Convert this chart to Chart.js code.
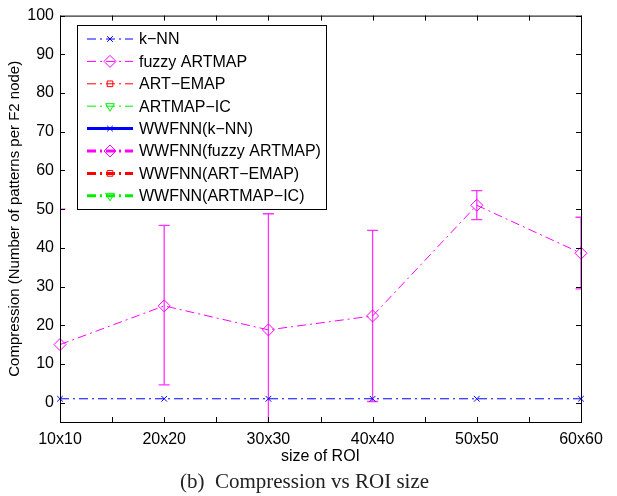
<!DOCTYPE html>
<html><head><meta charset="utf-8">
<script src="https://cdn.jsdelivr.net/npm/chart.js@4"></script>
<style>
html,body{margin:0;padding:0;background:#fff;}
#wrap{position:relative;width:617px;height:496px;}
#cap{position:absolute;left:0;width:609px;top:468px;text-align:center;font-family:"Liberation Serif","DejaVu Serif",serif;font-size:21px;line-height:26px;color:#222;}
</style></head>
<body>
<div id="wrap"><canvas id="c" width="617" height="496"></canvas>
<div id="cap">(b)&nbsp; Compression vs ROI size</div></div>
<script>
const categories = ['10x10','20x20','30x30','40x40','50x50','60x60'];
const knn = [1,1,1,1,1,1];
const fuzzy = [15,25,18.8,22.4,51,38.6];
const fuzzyLow = [-20,4.6,-11.2,0.3,47.3,29.4];
const fuzzyHigh = [50,45.8,48.8,44.5,54.8,47.9];
const empty = [null,null,null,null,null,null];
const yTicks = [0,10,20,30,40,50,60,70,80,90,100];
const xMinor = [1,1.5,2,2.5,3,3.5,4,4.5,5,5.5,6];

const pts = arr => arr.map((v,i)=>({x:i+1,y:v}));
const DD = [9,4,2,4];
function ds(label,data,color,width,style,rot,radius,dash){
  return {label,data:pts(data),borderColor:color,backgroundColor:'transparent',borderWidth:width,
    borderDash:dash,pointStyle:style,pointRotation:rot,
    pointRadius:radius,pointBorderWidth:1,pointBorderColor:color,pointBackgroundColor:'transparent',
    tension:0,clip:false,spanGaps:false};
}
const datasets = [
  ds('k\u2212NN',knn,'#0000ff',1,'crossRot',0,4,DD),
  ds('fuzzy ARTMAP',fuzzy,'#ff00ff',1,'rectRot',0,6,DD),
  ds('ART\u2212EMAP',empty,'#ff0000',1,'rect',0,4,DD),
  ds('ARTMAP\u2212IC',empty,'#00ee00',1,'triangle',180,5,DD),
  ds('WWFNN(k\u2212NN)',empty,'#0000ff',3,'crossRot',0,4,[]),
  ds('WWFNN(fuzzy ARTMAP)',empty,'#ff00ff',3,'rectRot',0,6,DD),
  ds('WWFNN(ART\u2212EMAP)',empty,'#ff0000',3,'rect',0,4,DD),
  ds('WWFNN(ARTMAP\u2212IC)',empty,'#00ee00',3,'triangle',180,5,DD)
];

const FONT = '"Liberation Sans", Arial, sans-serif';

const errPlugin = {id:'err', beforeDatasetsDraw(chart){
  const {ctx,chartArea:a,scales:{x,y}} = chart;
  ctx.save(); ctx.beginPath(); ctx.rect(a.left,a.top,a.right-a.left,a.bottom-a.top); ctx.clip();
  ctx.strokeStyle='#ff33ff'; ctx.lineWidth=1.3;
  fuzzy.forEach((v,i)=>{
    const px=x.getPixelForValue(i+1), lo=y.getPixelForValue(fuzzyLow[i]), hi=y.getPixelForValue(fuzzyHigh[i]);
    ctx.beginPath(); ctx.moveTo(px,lo); ctx.lineTo(px,hi);
    ctx.moveTo(px-5.5,lo); ctx.lineTo(px+5.5,lo);
    ctx.moveTo(px-5.5,hi); ctx.lineTo(px+5.5,hi); ctx.stroke();
  });
  ctx.restore();
}};

const frame = {id:'frame', afterDraw(chart){
  const {ctx,chartArea:a,scales:{x,y}} = chart;
  ctx.save(); ctx.strokeStyle='#000'; ctx.lineWidth=1;
  ctx.strokeRect(a.left+0.5,a.top+0.5,a.right-a.left,a.bottom-a.top);
  ctx.beginPath();
  xMinor.forEach(v=>{const p=Math.round(x.getPixelForValue(v))+0.5;
    ctx.moveTo(p,a.bottom); ctx.lineTo(p,a.bottom-5); ctx.moveTo(p,a.top); ctx.lineTo(p,a.top+5);});
  yTicks.forEach(v=>{const p=Math.round(y.getPixelForValue(v))+0.5;
    ctx.moveTo(a.left,p); ctx.lineTo(a.left+5,p); ctx.moveTo(a.right,p); ctx.lineTo(a.right-5,p);});
  ctx.stroke();
  // legend
  const L=77,T=25,R=326,B=209;
  ctx.fillStyle='#fff'; ctx.fillRect(L,T,R-L,B-T);
  ctx.strokeRect(L+0.5,T+0.5,R-L,B-T);
  ctx.font='16px '+FONT; ctx.textBaseline='middle'; ctx.textAlign='left';
  chart.data.datasets.forEach((d,i)=>{
    const yy = 39 + i*22.4;
    ctx.save();
    ctx.strokeStyle=d.borderColor; ctx.lineWidth=d.borderWidth; ctx.setLineDash(d.borderDash);
    ctx.beginPath(); ctx.moveTo(87,yy); ctx.lineTo(133,yy); ctx.stroke();
    ctx.setLineDash([]);
    ctx.fillStyle='rgba(0,0,0,0)'; ctx.strokeStyle=d.borderColor; ctx.lineWidth=1;
    Chart.helpers.drawPoint(ctx,{pointStyle:d.pointStyle,rotation:d.pointRotation,radius:d.pointRadius,borderWidth:1},110,yy);
    ctx.restore();
    ctx.fillStyle='#000'; ctx.fillText(d.label,139,yy+1);
  });
  ctx.restore();
}};

new Chart(document.getElementById('c'),{
  type:'line',
  data:{datasets},
  options:{
    responsive:false, animation:false,
    layout:{padding:{top:13,right:36,bottom:26,left:0}},
    plugins:{legend:{display:false},tooltip:{enabled:false}},
    scales:{
      x:{type:'linear',min:1,max:6,
        afterBuildTicks:s=>{s.ticks=categories.map((c,i)=>({value:i+1}));},
        afterFit:s=>{s.height=48;},
        grid:{display:false,drawTicks:false},border:{display:false},
        ticks:{padding:8,color:'#000',font:{family:FONT,size:16},maxRotation:0,autoSkip:false,
          callback:(v)=>categories[Math.round(v)-1]},
        title:{display:true,text:'size of ROI',color:'#000',font:{family:FONT,size:16},padding:{top:0,bottom:4}}},
      y:{type:'linear',min:-5,max:100,
        afterBuildTicks:s=>{s.ticks=yTicks.map(v=>({value:v}));},
        afterFit:s=>{s.width=60;},
        grid:{display:false,drawTicks:false},border:{display:false},
        ticks:{padding:6,color:'#000',font:{family:FONT,size:16},autoSkip:false},
        title:{display:true,text:'Compression (Number of patterns per F2 node)',color:'#000',font:{family:FONT,size:15},padding:{top:6,bottom:0}}}
    }
  },
  plugins:[errPlugin,frame]
});
</script>
</body></html>
